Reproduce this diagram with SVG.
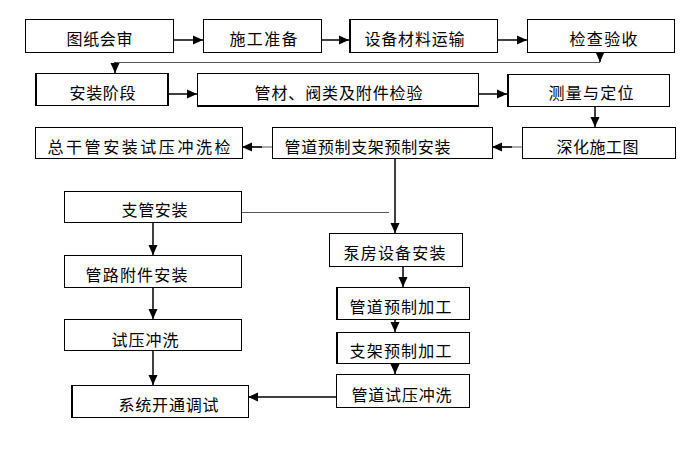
<svg xmlns="http://www.w3.org/2000/svg" width="691" height="457" viewBox="0 0 691 457">
<style>
.box{fill:#fff;stroke:#000;stroke-width:1}
.thick{stroke:#000;stroke-width:2;fill:none}
.t{font-family:"Noto Sans CJK SC","Noto Sans",sans-serif;font-size:16px;fill:#000;text-anchor:middle}
.c{fill:none;stroke:#000;stroke-width:1.5}
.g{fill:none;stroke:#555;stroke-width:1}
</style>
<defs>
<marker id="ah" markerUnits="userSpaceOnUse" markerWidth="10" markerHeight="10" viewBox="0 0 10 10" refX="10" refY="5" orient="auto">
<path d="M0,0.5 L10,5 L0,9.5 z" fill="#000"/>
</marker>
</defs>
<rect width="691" height="457" fill="#fff"/>
<g id="connectors">
<path class="c" d="M173,40 H203" marker-end="url(#ah)"/>
<path class="c" d="M321,40 H349" marker-end="url(#ah)"/>
<path class="c" d="M497,40 H527" marker-end="url(#ah)"/>
<path class="c" d="M600,52 V62" marker-end="url(#ah)"/>
<path class="g" d="M600,62.5 H115"/>
<path class="c" d="M115,62 V73" marker-end="url(#ah)"/>
<path class="c" d="M168,94 H197" marker-end="url(#ah)"/>
<path class="c" d="M478,94 H507" marker-end="url(#ah)"/>
<path class="c" d="M595,106 V127" marker-end="url(#ah)"/>
<path class="g" d="M522,147 H502"/>
<path class="c" d="M512,147 H492" marker-end="url(#ah)"/>
<path class="g" d="M272,147 H252"/>
<path class="c" d="M262,147 H242" marker-end="url(#ah)"/>
<path class="c" d="M395,158 V233" marker-end="url(#ah)"/>
<path class="g" d="M241,212.5 H389"/>
<path class="c" d="M403,266 V287" marker-end="url(#ah)"/>
<path class="c" d="M395,319 V332" marker-end="url(#ah)"/>
<path class="c" d="M395,363 V374" marker-end="url(#ah)"/>
<path class="c" d="M336,397 H248" marker-end="url(#ah)"/>
<path class="c" d="M153,222 V255" marker-end="url(#ah)"/>
<path class="c" d="M153,287 V319" marker-end="url(#ah)"/>
<path class="c" d="M153,350 V385" marker-end="url(#ah)"/>
</g>
<g id="n1"><rect class="box" x="25.5" y="19.5" width="148" height="33"/><text class="t" x="99.5" y="44.5" textLength="66">图纸会审</text></g>
<g id="n2"><rect class="box" x="203.5" y="19.5" width="118" height="33"/><text class="t" x="263.5" y="44.5" textLength="68">施工准备</text></g>
<g id="n3"><rect class="box" x="349.5" y="19.5" width="148" height="33"/><path class="thick" d="M350,19 V53"/><text class="t" x="414.5" y="44.5" textLength="100">设备材料运输</text></g>
<g id="n4"><rect class="box" x="527.5" y="19.5" width="147" height="33"/><text class="t" x="603.5" y="44.5" textLength="68">检查验收</text></g>
<g id="n5"><rect class="box" x="35.5" y="73.5" width="133" height="32"/><path class="thick" d="M36,73 V106 M168,73 V106"/><text class="t" x="102.5" y="98.5" textLength="66">安装阶段</text></g>
<g id="n6"><rect class="box" x="197.5" y="73.5" width="281" height="32"/><path class="thick" d="M197,106 H479"/><text class="t" x="338.5" y="98.5" textLength="168">管材、阀类及附件检验</text></g>
<g id="n7"><rect class="box" x="507.5" y="74.5" width="162" height="32"/><path class="thick" d="M508,74 V107"/><text class="t" x="591" y="98.5" textLength="85">测量与定位</text></g>
<g id="n8"><rect class="box" x="522.5" y="127.5" width="153" height="31"/><text class="t" x="597.5" y="152.5" textLength="82">深化施工图</text></g>
<g id="n9"><rect class="box" x="272.5" y="127.5" width="220" height="31"/><text class="t" x="367.5" y="152.5" textLength="166">管道预制支架预制安装</text></g>
<g id="n10"><rect class="box" x="35.5" y="127.5" width="207" height="31"/><text class="t" x="139" y="152.5" textLength="183">总干管安装试压冲洗检</text></g>
<g id="n11"><rect class="box" x="64.5" y="191.5" width="177" height="31"/><text class="t" x="154.5" y="216" textLength="66">支管安装</text></g>
<g id="n12"><rect class="box" x="64.5" y="255.5" width="177" height="32"/><text class="t" x="136.5" y="281" textLength="102">管路附件安装</text></g>
<g id="n13"><rect class="box" x="64.5" y="319.5" width="177" height="31"/><text class="t" x="145" y="346" textLength="67">试压冲洗</text></g>
<g id="n14"><rect class="box" x="71.5" y="385.5" width="177" height="32"/><path class="thick" d="M72,385 V418"/><text class="t" x="168.5" y="411" textLength="100">系统开通调试</text></g>
<g id="n15"><rect class="box" x="329.5" y="233.5" width="133" height="33"/><text class="t" x="394.5" y="259" textLength="102">泵房设备安装</text></g>
<g id="n16"><rect class="box" x="336.5" y="287.5" width="133" height="32"/><path class="thick" d="M337,287 V320"/><text class="t" x="400.5" y="312.5" textLength="102">管道预制加工</text></g>
<g id="n17"><rect class="box" x="336.5" y="332.5" width="133" height="31"/><path class="thick" d="M337,332 V364"/><text class="t" x="400.5" y="357" textLength="102">支架预制加工</text></g>
<g id="n18"><rect class="box" x="336.5" y="374.5" width="133" height="33"/><text class="t" x="401.5" y="401" textLength="100">管道试压冲洗</text></g>
</svg>
